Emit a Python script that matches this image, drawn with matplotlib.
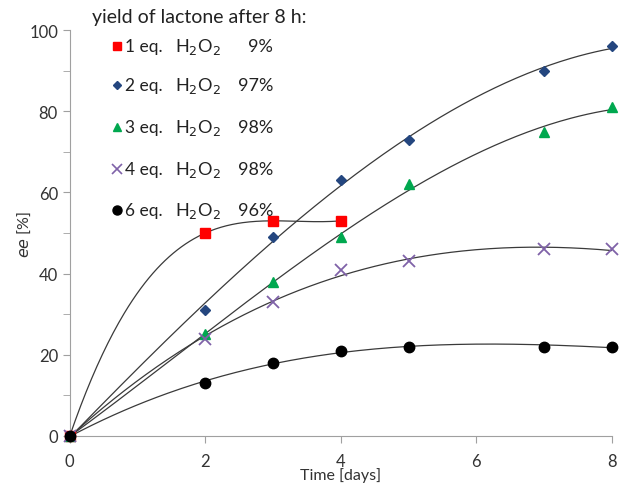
"""
ee over time for different H2O2 equivalents, with polynomial trend curves
"""
import matplotlib
matplotlib.use("Agg")
import matplotlib.pyplot as plt
import numpy as np
from matplotlib.ticker import MultipleLocator

plt.rcParams['font.family'] = ['Lato', 'DejaVu Sans']

# ------------------------------------------------------------------
# Data
# ------------------------------------------------------------------
days_1eq = [0, 2, 3, 4]
ee_1eq = [0, 50, 53, 53]

days_long = [0, 2, 3, 4, 5, 7, 8]
ee_2eq = [0, 31, 49, 63, 73, 90, 96]
ee_3eq = [0, 25, 38, 49, 62, 75, 81]
ee_4eq = [0, 24, 33, 41, 43, 46, 46]
ee_6eq = [0, 13, 18, 21, 22, 22, 22]

labels = ["1 eq.", "2 eq.", "3 eq.", "4 eq.", "6 eq."]
yields = ["9%", "97%", "98%", "98%", "96%"]
markers = ["s", "D", "^", "x", "o"]
colors = ["#FF0000", "#24467F", "#00A84F", "#7F62A8", "#000000"]
sizes = [7.5, 5, 7, 8, 7.5]
legend_sizes = [6, 4, 5.5, 6.5, 6.5]

series = [
    (days_1eq, ee_1eq),
    (days_long, ee_2eq),
    (days_long, ee_3eq),
    (days_long, ee_4eq),
    (days_long, ee_6eq),
]

fig = plt.figure(figsize=(6.23, 4.85), dpi=100)
ax = fig.add_axes([0.112, 0.099, 0.870, 0.837])

# trend curve (cubic fit) plus markers for every series
for (x, y), m, c, s in zip(series, markers, colors, sizes):
    coef = np.polyfit(x, y, 3)
    xs = np.linspace(0, max(x), 200)
    ax.plot(xs, np.polyval(coef, xs), color="#3A3A3A", lw=0.9, zorder=2)
    if m == "x":
        ax.plot(x, y, ls="none", marker=m, color=c, ms=s, mew=1.3, zorder=3,
                clip_on=False)
    else:
        ax.plot(x, y, ls="none", marker=m, color=c, mec=c, ms=s, zorder=3,
                clip_on=False)

ax.set_xlim(0, 8)
ax.set_ylim(0, 100)
ax.xaxis.set_major_locator(MultipleLocator(2))
ax.yaxis.set_major_locator(MultipleLocator(20))
ax.yaxis.set_minor_locator(MultipleLocator(10))
for side in ["top", "right"]:
    ax.spines[side].set_visible(False)
for side in ["left", "bottom"]:
    ax.spines[side].set_color("#A0A0A0")
ax.tick_params(which="both", colors="#A0A0A0", labelcolor="#333333",
               labelsize=12, length=5)
ax.tick_params(axis="x", pad=7)
ax.set_xlabel("Time [days]", fontsize=11.5, color="#333333", labelpad=-1)
ax.set_ylabel(r"$\it{ee}$ [%]", fontsize=11.5, color="#333333", labelpad=-3)

# ------------------------------------------------------------------
# Hand-made legend in the upper left
# ------------------------------------------------------------------
fig.text(92 / 623, 1 - 18 / 485, "yield of lactone after 8 h:", fontsize=14,
         va="center", ha="left", color="#222222")
rows_y = [47, 86, 128, 170, 211]
for ry, lab, yl, m, c, s in zip(rows_y, labels, yields, markers, colors,
                                legend_sizes):
    yf = 1 - ry / 485
    if m == "x":
        fig.lines.append(plt.Line2D([117 / 623], [yf], marker=m, color=c,
                                    ms=s, mew=1.2, ls="none",
                                    transform=fig.transFigure))
    else:
        fig.lines.append(plt.Line2D([117 / 623], [yf], marker=m, color=c,
                                    mec=c, ms=s, ls="none",
                                    transform=fig.transFigure))
    fig.text(125 / 623, yf, lab, fontsize=12.5, va="center", ha="left",
             color="#222222")
    fig.text(175 / 623, yf, r"H$_2$O$_2$", fontsize=13, va="center",
             ha="left", color="#222222")
    fig.text(273 / 623, yf, yl, fontsize=13, va="center", ha="right",
             color="#222222")

fig.savefig("out.png", dpi=100)
